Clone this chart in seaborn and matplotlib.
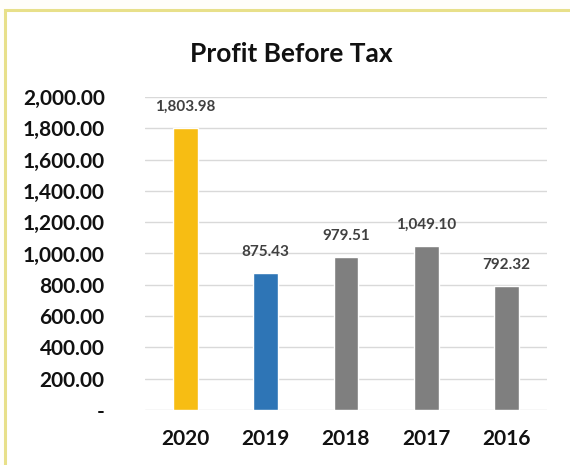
import matplotlib
matplotlib.use("Agg")
import matplotlib.pyplot as plt
import seaborn as sns
import pandas as pd
from matplotlib.patches import Rectangle

years = ["2020", "2019", "2018", "2017", "2016"]
profit = [1803.98, 875.43, 979.51, 1049.10, 792.32]
bar_colors = ["#F7BD13", "#2E75B6", "#7F7F7F", "#7F7F7F", "#7F7F7F"]
y_ticks = [0, 200, 400, 600, 800, 1000, 1200, 1400, 1600, 1800, 2000]

sns.set_theme(style="white")
plt.rcParams["font.family"] = ["Lato", "DejaVu Sans"]

df = pd.DataFrame({"year": years, "profit": profit})

W, H = 570, 465
fig = plt.figure(figsize=(W / 100, H / 100), dpi=100)
fig.patch.set_facecolor("#FFFEFA")

# yellow frame around the chart area
frame = Rectangle((5 / W, -0.05), 1.2, 1 - 10 / H + 0.05,
                  transform=fig.transFigure, fill=True,
                  facecolor="white", edgecolor="#E8E08A", lw=2.2, zorder=-10)
fig.add_artist(frame)

left, right, top, bottom = 145, 547, 97, 410
ax = fig.add_axes([left / W, 1 - bottom / H, (right - left) / W, (bottom - top) / H])
sns.barplot(data=df, x="year", y="profit", hue="year", palette=bar_colors,
            legend=False, width=0.31, ax=ax, saturation=1)

ax.set_ylim(0, 2000)
ax.set_xlim(-0.5, 4.5)
ax.set_yticks(y_ticks)
ax.set_yticklabels(["-" if v == 0 else f"{v:,.2f}" for v in y_ticks],
                   fontsize=15, fontweight="bold", color="#111111")
ax.set_xticks(range(len(years)))
ax.set_xticklabels(years, fontsize=15, fontweight="bold", color="#111111")
ax.tick_params(axis="y", length=0, pad=29)
ax.tick_params(axis="x", length=0, pad=14)
ax.yaxis.grid(True, color="#D9D9D9", lw=1)
ax.set_axisbelow(True)
for s in ax.spines.values():
    s.set_visible(False)
ax.set_xlabel("")
ax.set_ylabel("")
ax.set_facecolor("none")

for i, v in enumerate(profit):
    ax.annotate(f"{v:,.2f}", (i, v), xytext=(0, 10), textcoords="offset points",
                ha="center", va="bottom", fontsize=11, fontweight="bold",
                color="#404040")

fig.text(291 / W, 1 - 54 / H, "Profit Before Tax", ha="center", va="center",
         fontsize=19, fontweight="bold", color="#111111")

fig.savefig("out.png", dpi=100, facecolor=fig.get_facecolor())
